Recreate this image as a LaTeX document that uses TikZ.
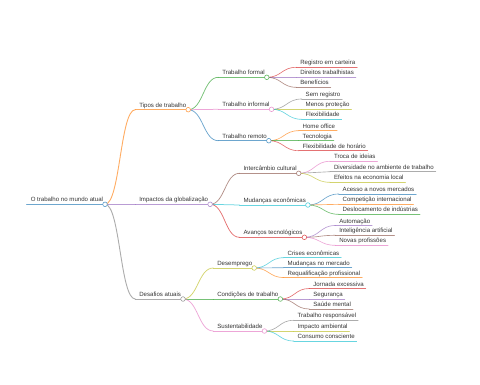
\documentclass[tikz,border=0pt]{standalone}
\usepackage{fontspec}
\setmainfont{Liberation Sans}
\usetikzlibrary{calc}
\definecolor{c0}{HTML}{1F77B4}
\definecolor{c1}{HTML}{FF7F0E}
\definecolor{c2}{HTML}{2CA02C}
\definecolor{c3}{HTML}{D62728}
\definecolor{c4}{HTML}{9467BD}
\definecolor{c5}{HTML}{8C564B}
\definecolor{c6}{HTML}{E377C2}
\definecolor{c7}{HTML}{7F7F7F}
\definecolor{c8}{HTML}{BCBD22}
\definecolor{c9}{HTML}{17BECF}
\definecolor{txtc}{HTML}{333333}
\tikzset{
  mmtxt/.style={inner xsep=2pt, inner ysep=0pt, outer sep=0pt, text=txtc,
    font=\fontsize{6.1}{7}\selectfont},
  mmline/.style={line cap=round, draw opacity=0.65},
}
% #1 name, #2 text x, #3 underline y, #4 text, #5 colour, #6 line width
\newcommand\mmnode[6]{%
  \node[mmtxt, anchor=base west] (#1) at (#2-2, #3-2.5) {#4};
  \coordinate (#1-s) at (#2-4, #3);
  \coordinate (#1-e) at (#1.east |- #1-s);
  \draw[mmline, #5, line width=#6] (#1-s) -- (#1-e);
}
% #1 parent, #2 child, #3 colour, #4 line width
\newcommand\mmedge[4]{%
  \draw[mmline, #3, line width=#4] let \p1=(#1-e), \p2=(#2-s) in
    (\p1) .. controls ({(\x1+\x2)/2}, \y1) and ({(\x1+\x2)/2}, \y2) .. (\p2);
}
\newcommand\mmcirc[2]{%
  \draw[#2!75!white, fill=white, line width=0.6pt] (#1-e) circle[radius=2.3pt];
}
\begin{document}
\begin{tikzpicture}[x=1pt, y=-1pt]
\useasboundingbox (0,0) rectangle (480,384);
% root
\mmnode{R}{30.8}{204.3}{O trabalho no mundo atual}{c0}{1.5pt}
% level 1
\mmnode{A}{139.3}{109.7}{Tipos de trabalho}{c1}{0.9pt}
\mmnode{B}{139.3}{204.3}{Impactos da globalização}{c4}{0.9pt}
\mmnode{C}{139.3}{299}{Desafios atuais}{c7}{0.9pt}
% level 2
\mmnode{A1}{222.3}{77.3}{Trabalho formal}{c2}{0.75pt}
\mmnode{A2}{222.3}{109.3}{Trabalho informal}{c6}{0.75pt}
\mmnode{A3}{222.3}{140.7}{Trabalho remoto}{c0}{0.75pt}
\mmnode{B1}{243.5}{173.3}{Intercâmbio cultural}{c5}{0.75pt}
\mmnode{B2}{243.5}{205}{Mudanças econômicas}{c9}{0.75pt}
\mmnode{B3}{243.5}{237.3}{Avanços tecnológicos}{c3}{0.75pt}
\mmnode{C1}{217.3}{268}{Desemprego}{c8}{0.75pt}
\mmnode{C2}{217.3}{299}{Condições de trabalho}{c2}{0.75pt}
\mmnode{C3}{217.3}{331}{Sustentabilidade}{c6}{0.75pt}
% level 3
\mmnode{A11}{300.3}{67.3}{Registro em carteira}{c3}{0.65pt}
\mmnode{A12}{300.3}{77.3}{Direitos trabalhistas}{c4}{0.65pt}
\mmnode{A13}{300.3}{87.3}{Benefícios}{c5}{0.65pt}
\mmnode{A21}{305.7}{99}{Sem registro}{c7}{0.65pt}
\mmnode{A22}{305.7}{109.3}{Menos proteção}{c8}{0.65pt}
\mmnode{A23}{305.7}{119.3}{Flexibilidade}{c9}{0.65pt}
\mmnode{A31}{302.7}{130.7}{Home office}{c1}{0.65pt}
\mmnode{A32}{302.7}{140.7}{Tecnologia}{c2}{0.65pt}
\mmnode{A33}{302.7}{150.7}{Flexibilidade de horário}{c3}{0.65pt}
\mmnode{B11}{334}{161.3}{Troca de ideias}{c6}{0.65pt}
\mmnode{B12}{334}{171.7}{Diversidade no ambiente de trabalho}{c7}{0.65pt}
\mmnode{B13}{334}{182.3}{Efeitos na economia local}{c8}{0.65pt}
\mmnode{B21}{342.7}{194}{Acesso a novos mercados}{c0}{0.65pt}
\mmnode{B22}{342.7}{204.3}{Competição internacional}{c1}{0.65pt}
\mmnode{B23}{342.7}{214.3}{Deslocamento de indústrias}{c2}{0.65pt}
\mmnode{B31}{339.3}{225.5}{Automação}{c4}{0.65pt}
\mmnode{B32}{339.3}{235.3}{Inteligência artificial}{c5}{0.65pt}
\mmnode{B33}{339.3}{245.3}{Novas profissões}{c6}{0.65pt}
\mmnode{C11}{287.7}{257.7}{Crises econômicas}{c9}{0.65pt}
\mmnode{C12}{287.7}{267.7}{Mudanças no mercado}{c0}{0.65pt}
\mmnode{C13}{287.7}{277.5}{Requalificação profissional}{c1}{0.65pt}
\mmnode{C21}{313.3}{288.5}{Jornada excessiva}{c3}{0.65pt}
\mmnode{C22}{313.3}{299}{Segurança}{c4}{0.65pt}
\mmnode{C23}{313.3}{309}{Saúde mental}{c5}{0.65pt}
\mmnode{C31}{297.7}{320.3}{Trabalho responsável}{c7}{0.65pt}
\mmnode{C32}{297.7}{331}{Impacto ambiental}{c8}{0.65pt}
\mmnode{C33}{297.7}{341}{Consumo consciente}{c9}{0.65pt}
% edges
\mmedge{R}{A}{c1}{0.9pt}
\mmedge{R}{B}{c4}{0.9pt}
\mmedge{R}{C}{c7}{0.9pt}
\mmedge{A}{A1}{c2}{0.75pt}
\mmedge{A}{A2}{c6}{0.75pt}
\mmedge{A}{A3}{c0}{0.75pt}
\mmedge{B}{B1}{c5}{0.75pt}
\mmedge{B}{B2}{c9}{0.75pt}
\mmedge{B}{B3}{c3}{0.75pt}
\mmedge{C}{C1}{c8}{0.75pt}
\mmedge{C}{C2}{c2}{0.75pt}
\mmedge{C}{C3}{c6}{0.75pt}
\mmedge{A1}{A11}{c3}{0.65pt}
\mmedge{A1}{A12}{c4}{0.65pt}
\mmedge{A1}{A13}{c5}{0.65pt}
\mmedge{A2}{A21}{c7}{0.65pt}
\mmedge{A2}{A22}{c8}{0.65pt}
\mmedge{A2}{A23}{c9}{0.65pt}
\mmedge{A3}{A31}{c1}{0.65pt}
\mmedge{A3}{A32}{c2}{0.65pt}
\mmedge{A3}{A33}{c3}{0.65pt}
\mmedge{B1}{B11}{c6}{0.65pt}
\mmedge{B1}{B12}{c7}{0.65pt}
\mmedge{B1}{B13}{c8}{0.65pt}
\mmedge{B2}{B21}{c0}{0.65pt}
\mmedge{B2}{B22}{c1}{0.65pt}
\mmedge{B2}{B23}{c2}{0.65pt}
\mmedge{B3}{B31}{c4}{0.65pt}
\mmedge{B3}{B32}{c5}{0.65pt}
\mmedge{B3}{B33}{c6}{0.65pt}
\mmedge{C1}{C11}{c9}{0.65pt}
\mmedge{C1}{C12}{c0}{0.65pt}
\mmedge{C1}{C13}{c1}{0.65pt}
\mmedge{C2}{C21}{c3}{0.65pt}
\mmedge{C2}{C22}{c4}{0.65pt}
\mmedge{C2}{C23}{c5}{0.65pt}
\mmedge{C3}{C31}{c7}{0.65pt}
\mmedge{C3}{C32}{c8}{0.65pt}
\mmedge{C3}{C33}{c9}{0.65pt}
% circles
\mmcirc{R}{c0}
\mmcirc{A}{c1}
\mmcirc{B}{c4}
\mmcirc{C}{c7}
\mmcirc{A1}{c2}
\mmcirc{A2}{c6}
\mmcirc{A3}{c0}
\mmcirc{B1}{c5}
\mmcirc{B2}{c9}
\mmcirc{B3}{c3}
\mmcirc{C1}{c8}
\mmcirc{C2}{c2}
\mmcirc{C3}{c6}
\end{tikzpicture}
\end{document}
